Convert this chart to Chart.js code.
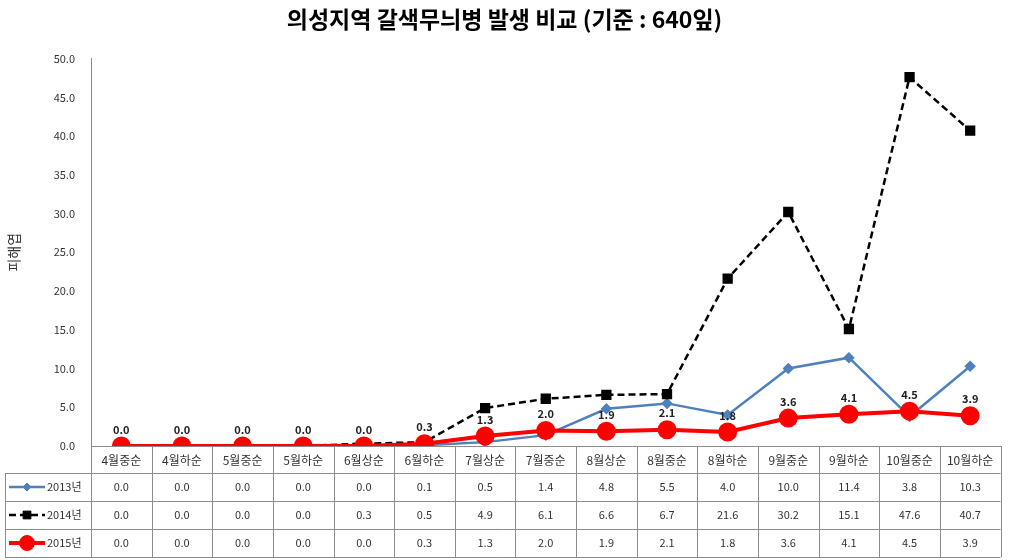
<!DOCTYPE html>
<html>
<head>
<meta charset="utf-8">
<script src="https://cdn.jsdelivr.net/npm/chart.js@4"></script>
<style>
  body { margin: 0; background: #fff; }
  #wrap { width: 1012px; height: 560px; }
</style>
</head>
<body>
<div id="wrap"><canvas id="damageChart" width="1012" height="560"></canvas></div>
<script>
// 조사 시기
const periods = ['4월중순', '4월하순', '5월중순', '5월하순', '6월상순', '6월하순', '7월상순', '7월중순',
                 '8월상순', '8월중순', '8월하순', '9월중순', '9월하순', '10월중순', '10월하순'];
// 피해엽 수 (기준 640잎)
const y2013 = [0.0, 0.0, 0.0, 0.0, 0.0, 0.1, 0.5, 1.4, 4.8, 5.5, 4.0, 10.0, 11.4, 3.8, 10.3];
const y2014 = [0.0, 0.0, 0.0, 0.0, 0.3, 0.5, 4.9, 6.1, 6.6, 6.7, 21.6, 30.2, 15.1, 47.6, 40.7];
const y2015 = [0.0, 0.0, 0.0, 0.0, 0.0, 0.3, 1.3, 2.0, 1.9, 2.1, 1.8, 3.6, 4.1, 4.5, 3.9];
const seriesNames = ['2013년', '2014년', '2015년'];
const yTicks = [0, 5, 10, 15, 20, 25, 30, 35, 40, 45, 50];

const FONT = "'Noto Sans CJK KR', 'Noto Sans', sans-serif";
const lineColor = '#8c8c8c';

// 2015년 값 표시
const valueLabels = {
    id: 'valueLabels',
    afterDatasetsDraw(chart) {
        const ctx = chart.ctx;
        const meta = chart.getDatasetMeta(2);
        ctx.save();
        ctx.font = 'bold 11px ' + FONT;
        ctx.fillStyle = '#222';
        ctx.textAlign = 'center';
        ctx.textBaseline = 'bottom';
        meta.data.forEach(function(pt, i) {
            ctx.fillText(y2015[i].toFixed(1), pt.x, pt.y - 11);
        });
        ctx.restore();
    }
};

// 하단 데이터 표
const dataTable = {
    id: 'dataTable',
    afterDraw(chart) {
        const ctx = chart.ctx;
        const area = chart.chartArea;
        const x = chart.scales.x;
        const colW = x.getPixelForValue(1) - x.getPixelForValue(0);
        const headTop = area.bottom;
        const headH = 27;
        const rowH = 28;
        const legendLeft = 5;
        const rowsTop = headTop + headH;
        const bottom = rowsTop + rowH * 3;

        ctx.save();
        ctx.strokeStyle = lineColor;
        ctx.lineWidth = 1;
        ctx.beginPath();
        // horizontal lines
        ctx.moveTo(area.left, headTop + 0.5); ctx.lineTo(area.right, headTop + 0.5);
        for (let r = 0; r <= 3; r++) {
            const yy = Math.round(rowsTop + r * rowH) + 0.5;
            ctx.moveTo(legendLeft, yy); ctx.lineTo(area.right, yy);
        }
        // vertical lines
        ctx.moveTo(legendLeft + 0.5, rowsTop); ctx.lineTo(legendLeft + 0.5, bottom);
        for (let i = 0; i <= periods.length; i++) {
            const xx = Math.round(x.getPixelForValue(i) - colW / 2) + 0.5;
            ctx.moveTo(xx, headTop); ctx.lineTo(xx, bottom);
        }
        ctx.stroke();

        // values
        const rows = [y2013, y2014, y2015];
        ctx.font = '11px ' + FONT;
        ctx.fillStyle = '#333';
        ctx.textAlign = 'center';
        ctx.textBaseline = 'middle';
        rows.forEach(function(vals, r) {
            const cy = rowsTop + r * rowH + rowH / 2;
            vals.forEach(function(v, i) {
                ctx.fillText(v.toFixed(1), x.getPixelForValue(i), cy);
            });
        });

        // legend keys
        rows.forEach(function(vals, r) {
            const ds = chart.data.datasets[r];
            const cy = rowsTop + r * rowH + rowH / 2;
            ctx.save();
            ctx.strokeStyle = ds.borderColor;
            ctx.lineWidth = ds.borderWidth;
            ctx.setLineDash(ds.borderDash || []);
            ctx.beginPath();
            ctx.moveTo(legendLeft + 4, cy); ctx.lineTo(legendLeft + 40, cy);
            ctx.stroke();
            ctx.setLineDash([]);
            ctx.fillStyle = ds.pointBackgroundColor;
            ctx.strokeStyle = ds.pointBorderColor;
            ctx.lineWidth = 1;
            Chart.helpers.drawPoint(ctx, {pointStyle: ds.pointStyle, radius: ds.pointRadius, borderWidth: 1},
                legendLeft + 22, cy);
            ctx.restore();
            ctx.fillStyle = '#333';
            ctx.textAlign = 'left';
            ctx.fillText(seriesNames[r], legendLeft + 42, cy);
        });
        ctx.restore();
    }
};

const ctx = document.getElementById('damageChart').getContext('2d');
const damageChart = new Chart(ctx, {
    type: 'line',
    data: {
        labels: periods,
        datasets: [{
            label: seriesNames[0],
            data: y2013,
            borderColor: '#4f81bd',
            borderWidth: 2.5,
            pointStyle: 'rectRot',
            pointRadius: 4,
            pointBackgroundColor: '#4f81bd',
            pointBorderColor: '#4f81bd',
            order: 2
        }, {
            label: seriesNames[1],
            data: y2014,
            borderColor: '#000',
            borderWidth: 2.5,
            borderDash: [7, 4],
            pointStyle: 'rect',
            pointRadius: 5.5,
            pointBackgroundColor: '#000',
            pointBorderColor: '#000',
            order: 1
        }, {
            label: seriesNames[2],
            data: y2015,
            borderColor: '#ff0000',
            borderWidth: 4,
            pointStyle: 'circle',
            pointRadius: 7.5,
            pointBackgroundColor: '#ff0000',
            pointBorderColor: '#ff0000',
            order: 0
        }]
    },
    options: {
        responsive: false,
        animation: false,
        layout: {
            padding: { left: 5, right: 8, top: 0, bottom: 87 }
        },
        plugins: {
            legend: { display: false },
            tooltip: { enabled: false },
            title: {
                display: true,
                text: '의성지역 갈색무늬병 발생 비교 (기준 : 640잎)',
                color: '#000',
                font: { family: FONT, size: 23, weight: 'bold' },
                padding: { top: 5, bottom: 26 }
            }
        },
        scales: {
            x: {
                offset: true,
                grid: { display: false, drawTicks: false },
                border: { display: true, color: lineColor },
                ticks: {
                    color: '#333',
                    font: { family: FONT, size: 12 },
                    padding: 7,
                    maxRotation: 0,
                    autoSkip: false
                },
                afterFit: function(scale) { scale.height = 27; }
            },
            y: {
                min: 0,
                max: 50,
                grid: { display: false, drawTicks: false },
                border: { display: true, color: lineColor },
                afterBuildTicks: function(scale) {
                    scale.ticks = yTicks.map(function(v) { return { value: v }; });
                },
                ticks: {
                    color: '#333',
                    font: { family: FONT, size: 11 },
                    padding: 16,
                    callback: function(v) { return Number(v).toFixed(1); }
                },
                title: {
                    display: true,
                    text: '피해엽',
                    color: '#333',
                    font: { family: FONT, size: 14 },
                    padding: 0
                },
                afterFit: function(scale) { scale.width = 86; }
            }
        }
    },
    plugins: [valueLabels, dataTable]
});
</script>
</body>
</html>
